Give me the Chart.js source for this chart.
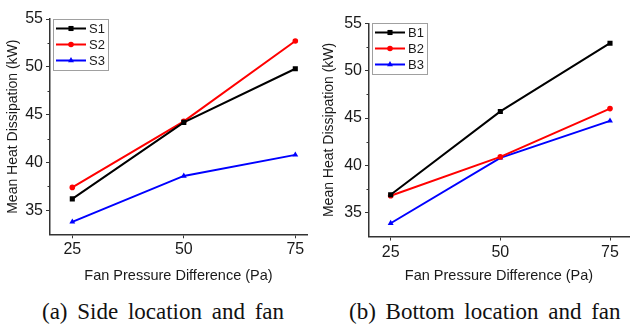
<!DOCTYPE html>
<html>
<head>
<meta charset="utf-8">
<script src="https://cdn.jsdelivr.net/npm/chart.js@4"></script>
<style>
  html, body { margin: 0; padding: 0; background: #fff; }
  body { width: 633px; height: 325px; position: relative; overflow: hidden; }
  canvas { position: absolute; top: 0; }
  #chartSide { left: 0; }
  #chartBottom { left: 316px; }
  .caption {
    position: absolute; top: 300px;
    font-family: 'Liberation Serif', 'Times New Roman', serif;
    font-size: 23px; line-height: 23px; word-spacing: 4px;
    color: #111; white-space: nowrap;
  }
</style>
</head>
<body>
<canvas id="chartSide" width="316" height="290"></canvas>
<canvas id="chartBottom" width="317" height="290"></canvas>
<div class="caption" style="left:42px">(a) Side location and fan</div>
<div class="caption" style="left:349px">(b) Bottom location and fan</div>
<script>
// fan pressure difference (Pa)
const pressures = [25, 50, 75];
// mean heat dissipation (kW)
const sideS1 = [36.2, 44.2, 49.8];
const sideS2 = [37.4, 44.3, 52.7];
const sideS3 = [33.8, 38.6, 40.8];
const bottomB1 = [36.9, 45.7, 52.9];
const bottomB2 = [36.8, 40.9, 46.0];
const bottomB3 = [33.9, 40.8, 44.7];
const sideNames = ['S1', 'S2', 'S3'];
const bottomNames = ['B1', 'B2', 'B3'];
const xTicks = [25, 50, 75];
const yTicks = [35, 40, 45, 50, 55];

const AXIS = '#333';
const TEXT = '#1a1a1a';
Chart.defaults.font.family = "'Liberation Sans', Arial, sans-serif";
Chart.defaults.color = TEXT;

const seriesStyle = [
  { color: '#000000', pointStyle: 'rect', radius: 3.6 },
  { color: '#ff0000', pointStyle: 'circle', radius: 2.8 },
  { color: '#0000ff', pointStyle: 'triangle', radius: 3.4 }
];

function makeDatasets(names, seriesList) {
  return names.map((name, i) => ({
    label: name,
    data: pressures.map((p, j) => ({ x: p, y: seriesList[i][j] })),
    borderColor: seriesStyle[i].color,
    backgroundColor: seriesStyle[i].color,
    borderWidth: 2,
    pointStyle: seriesStyle[i].pointStyle,
    pointRadius: seriesStyle[i].radius,
    pointBorderWidth: 0,
    tension: 0
  }));
}

// boxed legend with line + marker samples, inside the plot area
const boxLegend = {
  id: 'boxLegend',
  afterDatasetsDraw(chart, args, opts) {
    const ctx = chart.ctx;
    const a = chart.chartArea;
    const x0 = Math.round(a.left + opts.dx), y0 = Math.round(a.top + opts.dy);
    ctx.save();
    ctx.fillStyle = '#fff';
    ctx.fillRect(x0, y0, opts.w, opts.h);
    ctx.strokeStyle = '#a0a0a0';
    ctx.lineWidth = 1;
    ctx.strokeRect(x0 + 0.5, y0 + 0.5, opts.w, opts.h);
    chart.data.datasets.forEach((ds, i) => {
      const y = y0 + opts.first + i * opts.step;
      ctx.strokeStyle = ds.borderColor;
      ctx.lineWidth = 2;
      ctx.beginPath();
      ctx.moveTo(x0 + 3, y);
      ctx.lineTo(x0 + 33, y);
      ctx.stroke();
      ctx.fillStyle = ds.backgroundColor;
      Chart.helpers.drawPoint(ctx, { pointStyle: ds.pointStyle, radius: ds.pointRadius, borderWidth: 0, rotation: 0 }, x0 + 18, y);
      ctx.fillStyle = TEXT;
      ctx.font = "13px 'Liberation Sans', Arial, sans-serif";
      ctx.textBaseline = 'middle';
      ctx.fillText(ds.label, x0 + 36, y + 0.5);
    });
    ctx.restore();
  }
};

// short minor ticks halfway between the y labels
const minorTicks = {
  id: 'minorTicks',
  afterDraw(chart) {
    const s = chart.scales.y, ctx = chart.ctx;
    ctx.save();
    ctx.strokeStyle = AXIS;
    ctx.lineWidth = 1;
    yTicks.forEach(t => {
      const v = t - 2.5;
      if (v <= s.min) return;
      const py = Math.round(s.getPixelForValue(v)) + 0.5;
      ctx.beginPath();
      ctx.moveTo(s.right - 2.5, py);
      ctx.lineTo(s.right, py);
      ctx.stroke();
    });
    ctx.restore();
  }
};

function makeOptions(cfg) {
  return {
    responsive: false,
    animation: false,
    devicePixelRatio: 1,
    layout: { padding: { top: cfg.top, right: cfg.right, left: 0, bottom: 0 } },
    plugins: {
      legend: { display: false },
      tooltip: { enabled: false },
      boxLegend: { dx: 3, dy: 0, w: 55, h: 51, first: 9.5, step: 16 }
    },
    scales: {
      x: {
        type: 'linear',
        min: cfg.xMin,
        max: cfg.xMax,
        afterBuildTicks: s => { s.ticks = xTicks.map(v => ({ value: v })); },
        afterFit: s => { s.height = cfg.xHeight; },
        grid: { drawOnChartArea: false, drawTicks: true, tickLength: 4, tickColor: AXIS },
        border: { color: AXIS, width: 1.5 },
        ticks: { font: { size: 16 }, padding: 2, color: TEXT, maxRotation: 0 },
        title: { display: true, text: 'Fan Pressure Difference (Pa)', font: { size: 14.5 }, padding: { top: 0, bottom: 5 }, color: TEXT }
      },
      y: {
        type: 'linear',
        min: 32.5,
        max: 55,
        afterBuildTicks: s => { s.ticks = yTicks.map(v => ({ value: v })); },
        afterFit: s => { s.width = cfg.yWidth; },
        grid: { drawOnChartArea: false, drawTicks: true, tickLength: 4, tickColor: AXIS },
        border: { color: AXIS, width: 1.5 },
        ticks: { font: { size: 16 }, padding: 3, color: TEXT },
        title: { display: true, text: 'Mean Heat Dissipation (kW)', font: { size: 14 }, padding: { top: 4.4, bottom: 0 }, color: TEXT }
      }
    }
  };
}

new Chart(document.getElementById('chartSide'), {
  type: 'line',
  data: { datasets: makeDatasets(sideNames, [sideS1, sideS2, sideS3]) },
  options: makeOptions({ top: 19, right: 9, xMin: 20, xMax: 77.62, xHeight: 55.7, yWidth: 50 }),
  plugins: [boxLegend, minorTicks]
});

new Chart(document.getElementById('chartBottom'), {
  type: 'line',
  data: { datasets: makeDatasets(bottomNames, [bottomB1, bottomB2, bottomB3]) },
  options: makeOptions({ top: 23.3, right: 0, xMin: 20.06, xMax: 79.33, xHeight: 53.5, yWidth: 53 }),
  plugins: [boxLegend, minorTicks]
});
</script>
</body>
</html>
